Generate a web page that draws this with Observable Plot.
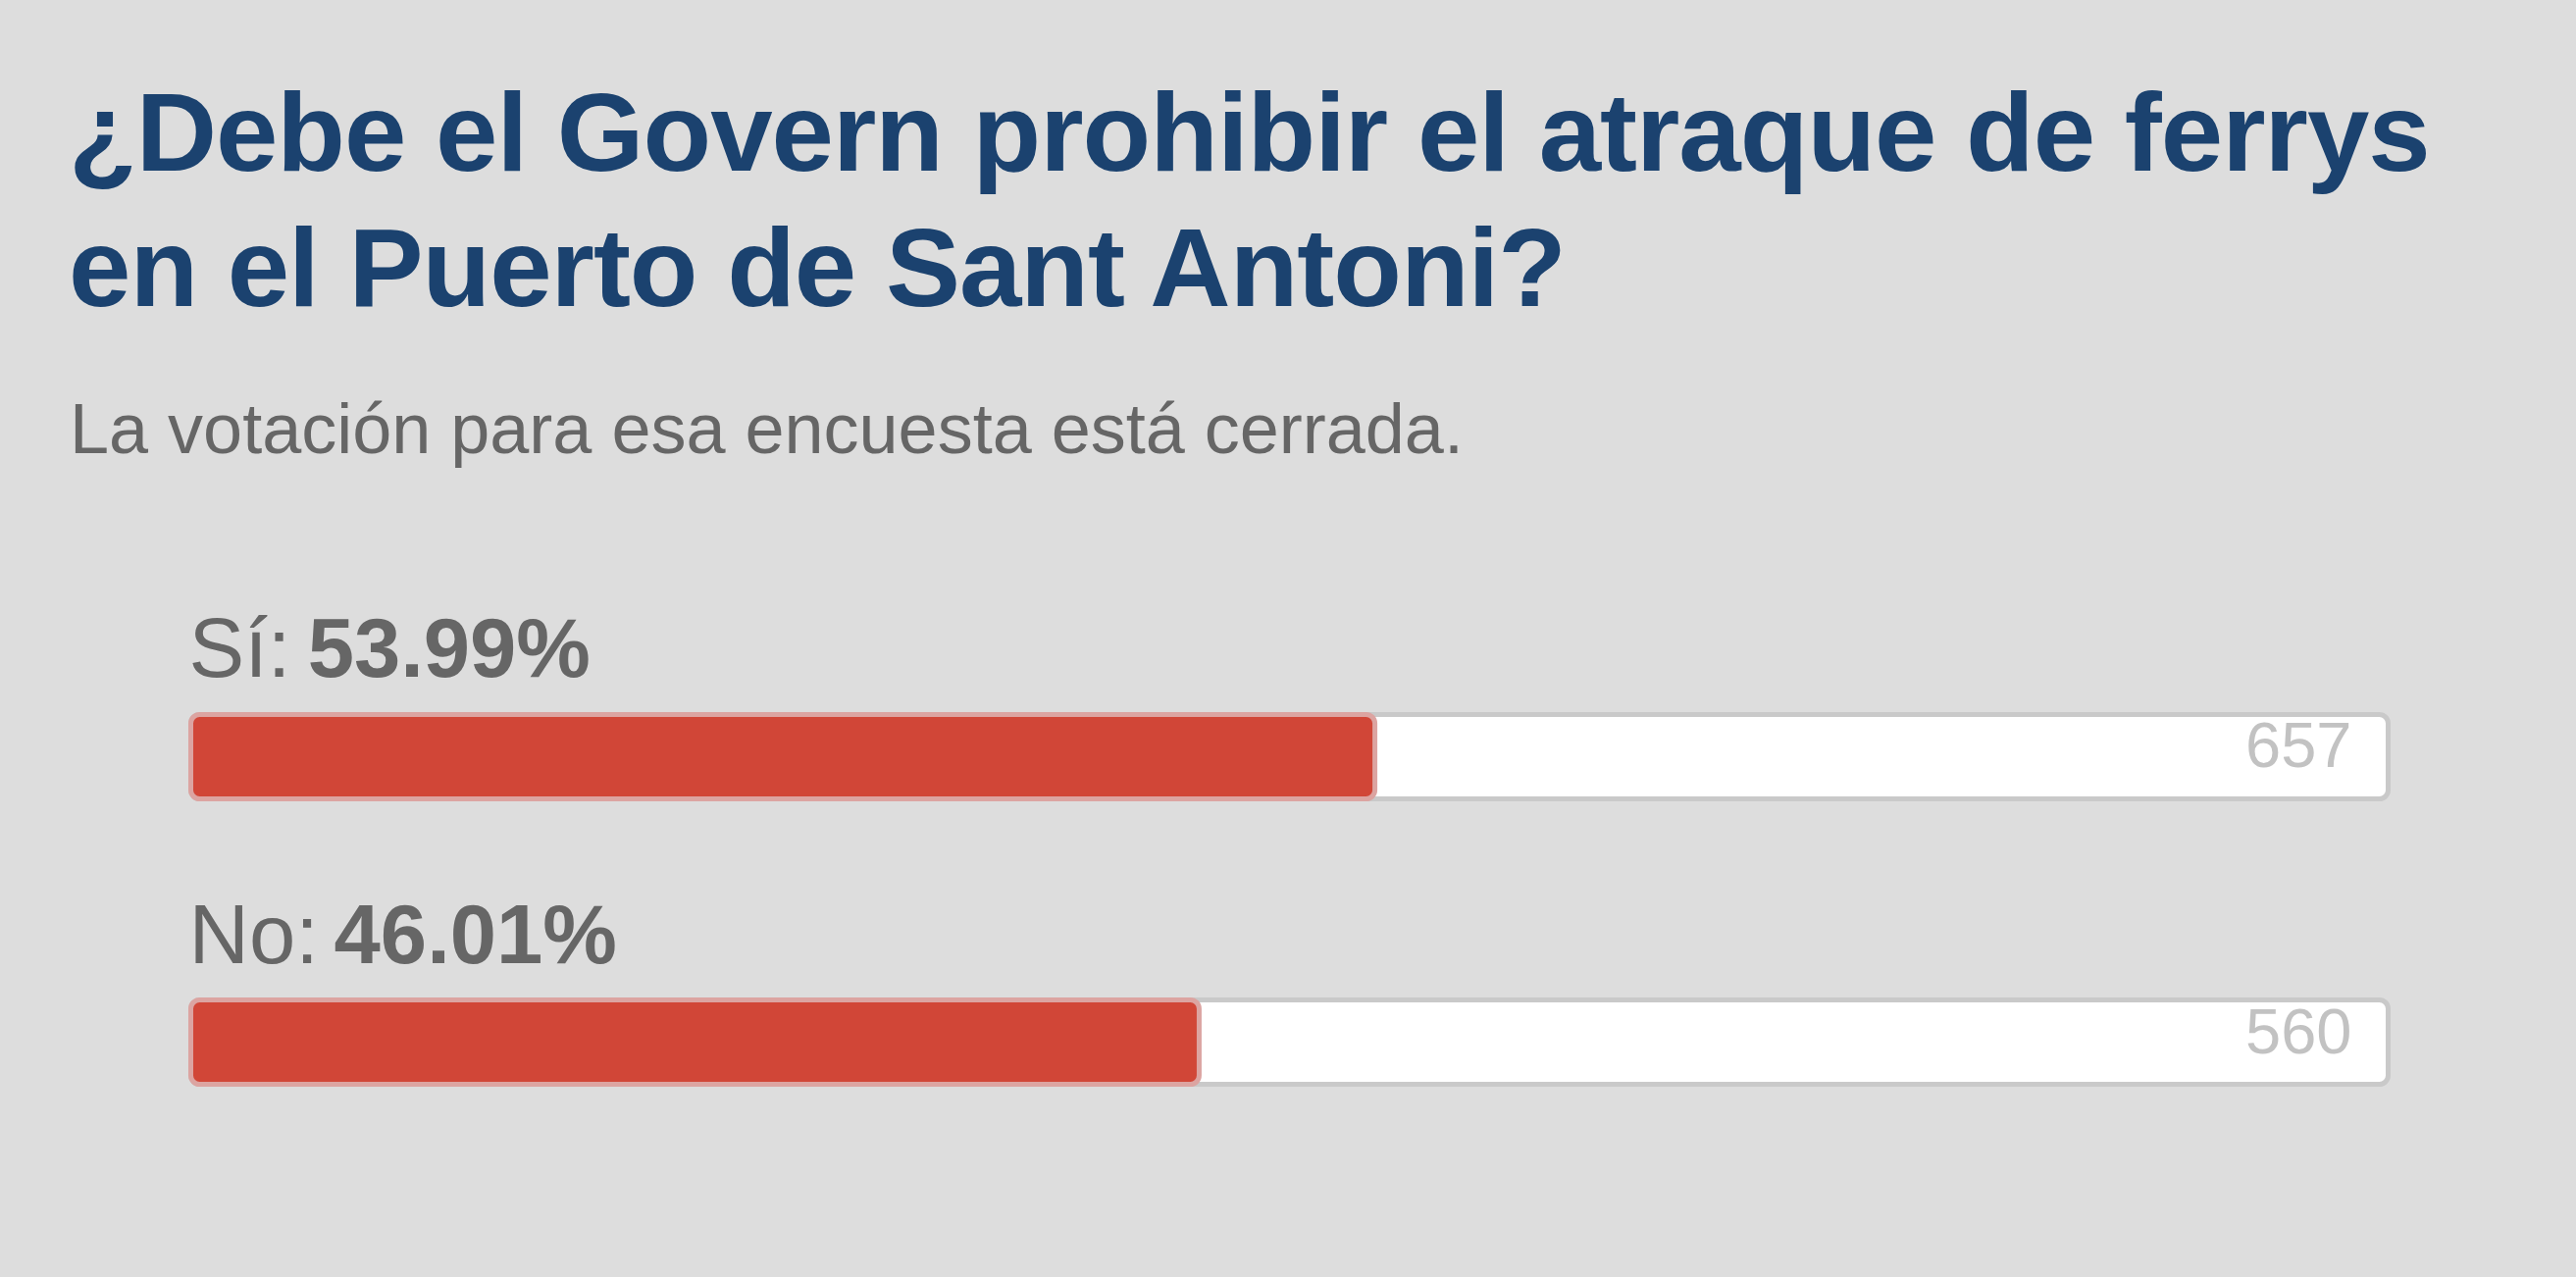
<!DOCTYPE html>
<html lang="es">
<head>
<meta charset="utf-8">
<title>Encuesta: ferrys en el Puerto de Sant Antoni</title>
<script src="https://cdn.jsdelivr.net/npm/d3@7"></script>
<script src="https://cdn.jsdelivr.net/npm/@observablehq/plot@0.6"></script>
<style>
  html, body { margin: 0; padding: 0; background: #dddddd; }
  body { width: 2626px; height: 1302px; position: relative; overflow: hidden;
         font-family: "Liberation Sans", Arial, Helvetica, sans-serif; }
  #title { position: absolute; left: 70px; top: 66px; margin: 0;
           font-size: 114px; line-height: 138px; font-weight: 700;
           letter-spacing: -1px; color: #1b426f; }
  #subtitle { position: absolute; left: 71px; top: 394px; margin: 0;
              font-size: 72px; line-height: 86px; color: #666666; }
  #poll { position: absolute; left: 0; top: 560px; }
</style>
</head>
<body>
<h1 id="title">¿Debe el Govern prohibir el atraque de ferrys<br>en el Puerto de Sant Antoni?</h1>
<p id="subtitle">La votación para esa encuesta está cerrada.</p>
<div id="poll"></div>
<script>
// Poll results
const options = ["Sí", "No"];
const percents = [53.99, 46.01];
const votes = [657, 560];

const rows = options.map((option, i) => ({option, percent: percents[i], votes: votes[i], full: 100}));

const labelFont = "85px 'Liberation Sans', Arial, sans-serif";
const ctx = document.createElement("canvas").getContext("2d");
ctx.font = labelFont;
const prefixWidth = (s) => ctx.measureText(s).width;

const chart = Plot.plot({
  width: 2626,
  height: 742,
  marginLeft: 192,
  marginRight: 189,
  marginTop: 0,
  marginBottom: 0,
  style: {background: "transparent", fontFamily: "'Liberation Sans', Arial, sans-serif", overflow: "visible"},
  x: {domain: [0, 100], axis: null},
  y: {domain: options, range: [166, 548], paddingInner: 0.6873, paddingOuter: 0, round: false, axis: null},
  marks: [
    // track (100%)
    Plot.barX(rows, {x1: 0, x2: "full", y: "option", fill: "#ffffff", stroke: "#c9c9c9", strokeWidth: 5, rx: 9, inset: 2.5}),
    // share of votes
    Plot.barX(rows, {x1: 0, x2: "percent", y: "option", fill: "#d14637", stroke: "#dca4a1", strokeWidth: 5, rx: 9, inset: 2.5}),
    // vote counts inside the track
    Plot.text(rows, {x: "full", y: "option", text: d => String(d.votes), textAnchor: "end", lineAnchor: "bottom",
      dx: -40, dy: 10.5, fontSize: 65, fill: "#c2c2c2"}),
    // option name
    Plot.text(rows, {x: 0, y: "option", text: d => `${d.option}:`, textAnchor: "start", lineAnchor: "bottom",
      dy: -81.5, fontSize: 85, fill: "#666666"}),
    // bold percentage after the option name
    ...rows.map(r => Plot.text([r], {x: 0, y: "option", text: d => `${d.percent.toFixed(2)}%`, textAnchor: "start",
      lineAnchor: "bottom", dx: prefixWidth(`${r.option}: `) * 0.95, dy: -81.5, fontSize: 85, fontWeight: "bold", fill: "#666666"}))
  ]
});

document.getElementById("poll").append(chart);
</script>
</body>
</html>
